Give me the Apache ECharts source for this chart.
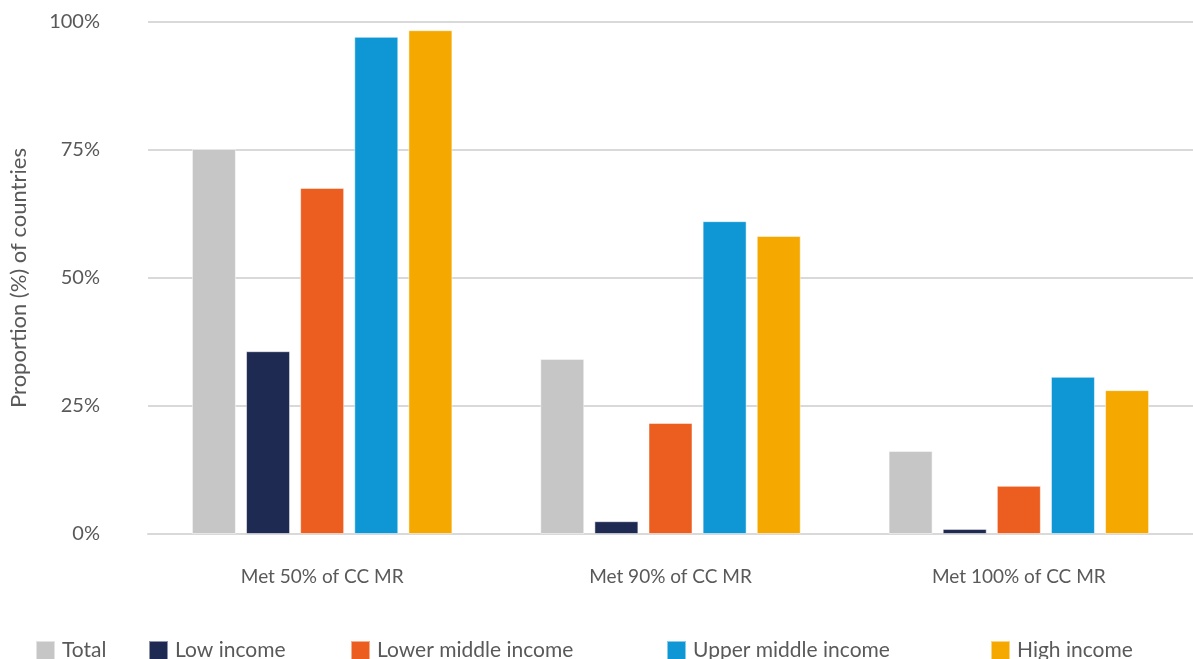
<!DOCTYPE html>
<html><head><meta charset="utf-8">
<script src="https://cdn.jsdelivr.net/npm/echarts@6/dist/echarts.min.js"></script>
<style>html,body{margin:0;padding:0;background:#fff}#c{width:1193px;height:659px}</style>
</head><body><div id="c"></div>
<script>
const categories = ['Met 50% of CC MR', 'Met 90% of CC MR', 'Met 100% of CC MR'];
const seriesNames = ['Total', 'Low income', 'Lower middle income', 'Upper middle income', 'High income'];
const total = [75.2, 34.2, 16.2];
const lowIncome = [35.7, 2.5, 1.0];
const lowerMiddle = [67.6, 21.7, 9.4];
const upperMiddle = [97.1, 61.1, 30.7];
const highIncome = [98.4, 58.2, 28.1];
const yTicks = [0, 25, 50, 75, 100];

const colors = ['#c6c6c6', '#1f2a52', '#eb5e1f', '#0f97d5', '#f5a800'];
const values = [total, lowIncome, lowerMiddle, upperMiddle, highIncome];
const font = 'Lato, "Noto Sans", sans-serif';
const textColor = '#595959';
const legendX = [35, 148, 350, 666, 990];

const chart = echarts.init(document.getElementById('c'));
chart.setOption({
  animation: false,
  color: colors,
  grid: {left: 148, right: 0, top: 22, bottom: 125, containLabel: false, outerBoundsMode: 'none'},
  legend: seriesNames.map((n, i) => ({
    data: [n], left: legendX[i], top: 640, padding: 0,
    itemWidth: 19, itemHeight: 19, itemGap: 8, icon: 'rect',
    textStyle: {fontFamily: font, fontSize: 21, color: textColor, padding: [0, 0, 0, 2]}
  })),
  xAxis: {
    type: 'category', data: categories,
    axisTick: {show: false},
    axisLine: {show: true, lineStyle: {color: '#d9d9d9', width: 2}},
    axisLabel: {fontFamily: font, fontSize: 19, color: textColor, margin: 33}
  },
  yAxis: {
    type: 'value', min: 0, max: 100, interval: 25,
    name: 'Proportion (%) of countries', nameLocation: 'middle', nameGap: 118,
    nameTextStyle: {fontFamily: font, fontSize: 22, color: textColor},
    axisLine: {show: false}, axisTick: {show: false},
    splitLine: {lineStyle: {color: '#d9d9d9', width: 2}},
    axisLabel: {fontFamily: font, fontSize: 20, color: textColor, margin: 48,
      formatter: v => yTicks.includes(v) ? v + '%' : ''}
  },
  series: seriesNames.map((n, i) => ({
    name: n, type: 'bar', data: values[i], barWidth: 44, barGap: '23%',
    itemStyle: {color: colors[i], borderColor: 'rgba(255,255,255,0.5)', borderWidth: 1}
  }))
});
</script></body></html>
